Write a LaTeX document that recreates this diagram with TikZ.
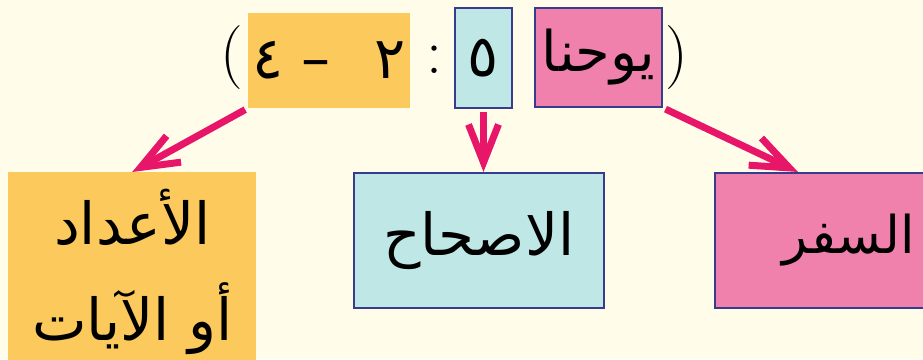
\documentclass[tikz,border=0pt]{standalone}
\usepackage{fontspec}
\usetikzlibrary{arrows.meta, positioning, calc}
\TeXXeTstate=1
\newfontfamily\arabicfont[Script=Arabic]{DejaVu Sans}
\definecolor{bgcream}{RGB}{255,252,234}
\definecolor{boxorange}{RGB}{252,201,92}
\definecolor{boxblue}{RGB}{190,231,229}
\definecolor{boxpink}{RGB}{240,128,172}
\definecolor{framenavy}{RGB}{55,60,140}
\definecolor{arrowred}{RGB}{232,22,105}

\begin{document}
\begin{tikzpicture}[
    x=1pt, y=-1pt,
    box/.style={rectangle, inner sep=0pt, text=black, align=center,
        font=\arabicfont\fontsize{58}{96}\selectfont},
    orangebox/.style={box, fill=boxorange},
    bluebox/.style={box, fill=boxblue, draw=framenavy, line width=1.6pt},
    pinkbox/.style={box, fill=boxpink, draw=framenavy, line width=1.6pt},
    punct/.style={inner sep=0pt, text=black, font=\fontsize{64}{70}\selectfont},
    refarrow/.style={arrowred, line width=7pt, shorten <=3pt,
        -{Straight Barb[length=38pt, width=30pt]}}
]

% Page
\useasboundingbox (0,0) rectangle (923,359);
\fill[bgcream] (0,0) rectangle (923,359);
\clip (0,0) rectangle (923,359);

% Reference line
\node[pinkbox, minimum width=127pt, minimum height=99pt, font=\arabicfont\fontsize{56}{60}\selectfont]
    (book) at (598.5,57.5) {\beginR يوحنا\endR};
\node[bluebox, minimum width=57pt, minimum height=100pt] (chap) at (483.5,58) {٥};
\node[orangebox, minimum width=162pt, minimum height=95pt] (verse) at (329,60.5)
    {\beginR ٢\hspace{44pt}–\hspace{18pt}٤\endR};
\node[punct] (colon) at (434,60) {:};
\node[punct] (lparen) at (232,58) {(};
\node[punct] (rparen) at (677,58) {)};

% Meaning boxes
\node[orangebox, minimum width=248pt, minimum height=200pt, anchor=north west] (verses) at (8,172)
    {\beginR الأعداد\endR\\\beginR أو الآيات\endR};
\node[bluebox, minimum width=250pt, minimum height=135pt, anchor=north west] (chapter) at (353,172)
    {\beginR الاصحاح\endR};
\node[pinkbox, minimum width=268pt, minimum height=135pt, anchor=north west,
    font=\arabicfont\fontsize{52}{60}\selectfont] (bookname) at (714,172)
    {\beginR السفر\endR};

% Arrows
\coordinate (booktip) at (798,172);
\draw[refarrow] (verse.south west) -- (verses.north);
\draw[refarrow] (chap.south) -- (chap.south |- chapter.north);
\draw[refarrow] (book.south east) -- (booktip);

\end{tikzpicture}
\end{document}
